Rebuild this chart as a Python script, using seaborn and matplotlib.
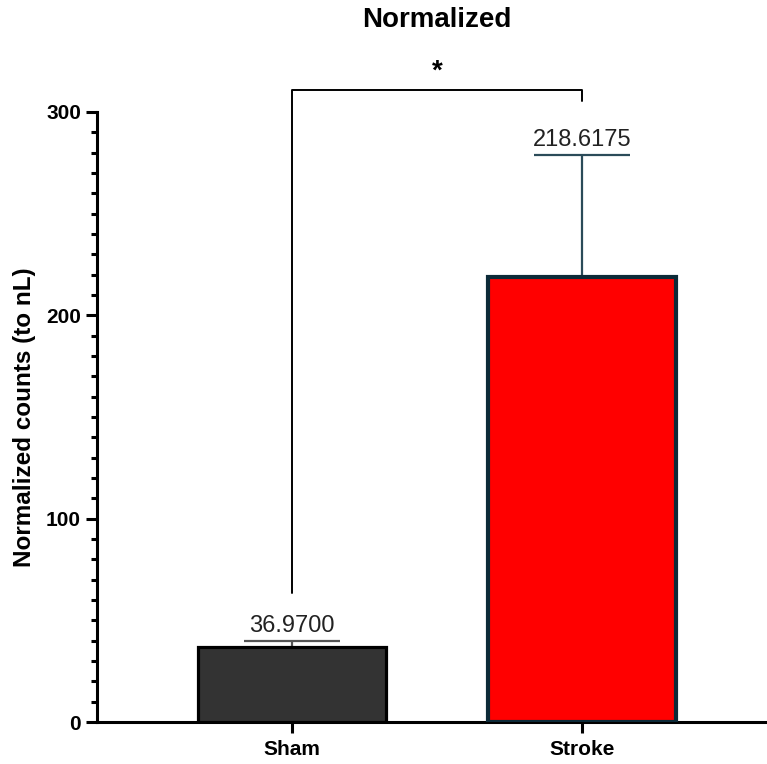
import matplotlib
matplotlib.use("Agg")
import matplotlib.pyplot as plt
import seaborn as sns
from matplotlib.ticker import MultipleLocator

# values
groups = ["Sham", "Stroke"]
means = [36.97, 218.6175]
err_upper = [2.9, 60.0]
bar_colors = ["#333333", "#ff0000"]
edge_colors = ["#000000", "#0c2a38"]
err_colors = ["#555555", "#2b4b59"]
bracket_low = [63.5, 305.5]
bracket_top = 311.0

sns.set_style("ticks")
plt.rcParams["font.family"] = ["Liberation Sans", "DejaVu Sans"]
plt.rcParams["text.color"] = "black"
plt.rcParams["axes.labelcolor"] = "black"
plt.rcParams["xtick.color"] = "black"
plt.rcParams["ytick.color"] = "black"

fig = plt.figure(figsize=(7.67, 7.64), dpi=100)
ax = fig.add_axes([97 / 767, 42 / 764, 1 - 97 / 767, 610 / 764])

sns.barplot(x=groups, y=means, hue=groups, palette=bar_colors, width=0.65,
            saturation=1, errorbar=None, legend=False, ax=ax, zorder=3)

for patch, ec, lw in zip(ax.patches, edge_colors, [2.3, 3.0]):
    patch.set_edgecolor(ec)
    patch.set_linewidth(lw)

# upper-only error bars with caps
for i, (m, e, c) in enumerate(zip(means, err_upper, err_colors)):
    ax.vlines(i, m, m + e, color=c, lw=1.6, zorder=2)
    ax.hlines(m + e, i - 0.165, i + 0.165, color=c, lw=1.6, zorder=2)
    ax.text(i, m + e + 2.0, f"{m:.4f}", ha="center", va="bottom",
            fontsize=17, color="#222222")

# significance bracket
ax.plot([0, 0, 1, 1], [bracket_low[0], bracket_top, bracket_top, bracket_low[1]],
        color="black", lw=1.4, clip_on=False, zorder=4)
ax.text(0.5, 320, "*", ha="center", va="center", fontsize=20,
        fontweight="bold", clip_on=False)

ax.set_xlim(-0.672, 1.638)
ax.set_ylim(0, 300)
ax.set_yticks([0, 100, 200, 300])
ax.yaxis.set_minor_locator(MultipleLocator(10))

for s in ["top", "right"]:
    ax.spines[s].set_visible(False)
for s in ["left", "bottom"]:
    ax.spines[s].set_linewidth(2.2)
    ax.spines[s].set_color("black")

ax.tick_params(axis="y", which="major", length=8, width=2.2, pad=3.5,
               labelsize=15)
ax.tick_params(axis="y", which="minor", length=4.3, width=2.2)
ax.tick_params(axis="x", which="major", length=8, width=2.2, pad=5,
               labelsize=15)
for lab in ax.get_xticklabels() + ax.get_yticklabels():
    lab.set_fontweight("bold")

ax.set_xlabel("")
ax.set_ylabel("Normalized counts (to nL)", fontsize=17.5, fontweight="bold",
              labelpad=7)

fig.text(437 / 767, 1 - 20 / 764, "Normalized", ha="center", va="center",
         fontsize=20, fontweight="bold")

fig.savefig("out.png", dpi=100)
